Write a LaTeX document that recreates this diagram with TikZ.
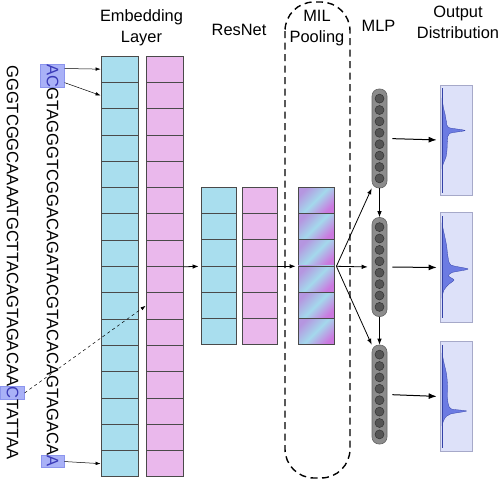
\documentclass[tikz,border=0pt]{standalone}
\usepackage{fontspec}
\setmainfont{Liberation Sans}
\usetikzlibrary{arrows.meta,positioning,calc}
\definecolor{EmbCyan}{HTML}{A9DEEE}
\definecolor{EmbPink}{HTML}{EAB8EC}
\definecolor{CellLine}{HTML}{4A4A4A}
\definecolor{HlFill}{HTML}{A9B1F7}
\definecolor{HlLine}{HTML}{8C95EE}
\definecolor{HlText}{HTML}{3A3AB8}
\definecolor{MixPink}{HTML}{CB78DF}
\definecolor{MixLav}{HTML}{B596E0}
\definecolor{MixBlue}{HTML}{A4D8EC}
\definecolor{MlpBar}{HTML}{8C8C8C}
\definecolor{MlpEdge}{HTML}{666666}
\definecolor{MlpDot}{HTML}{555555}
\definecolor{DistFill}{HTML}{DDE1F9}
\definecolor{DistLine}{HTML}{A6A9C9}
\definecolor{CurveFill}{HTML}{6C7BE2}
\definecolor{CurveLine}{HTML}{3442A8}

\begin{document}
\begin{tikzpicture}[x=1pt,y=-1pt,
    seq/.style={
      inner sep=0pt,
      rotate=-90,
      anchor=west,
      font=\fontsize{16.6}{18}\selectfont
    },
    hl/.style={
      fill=HlFill,
      draw=HlLine,
      line width=0.5pt,
      text=HlText,
      inner xsep=0.3pt,
      inner ysep=6pt
    },
    cell/.style={
      draw=CellLine,
      line width=0.8pt,
      fill=#1,
      minimum height=26.3pt,
      inner sep=0pt
    },
    embcell/.style={cell=#1, minimum width=37pt},
    rescell/.style={cell=#1, minimum width=35pt},
    poolcell/.style={
      draw=CellLine,
      line width=0.8pt,
      minimum width=36pt,
      minimum height=26.3pt,
      inner sep=0pt,
      top color=MixLav,
      bottom color=MixPink,
      middle color=MixBlue,
      shading angle=45
    },
    mlpbar/.style={
      draw=MlpEdge,
      fill=MlpBar,
      line width=0.6pt,
      rounded corners=7pt,
      minimum width=15pt,
      minimum height=99pt,
      inner sep=0pt
    },
    mlpdot/.style={
      circle,
      draw=black!80,
      fill=MlpDot,
      line width=0.5pt,
      minimum size=9pt,
      inner sep=0pt
    },
    distbox/.style={
      draw=DistLine,
      fill=DistFill,
      line width=0.7pt,
      minimum width=32pt,
      minimum height=110pt,
      inner sep=0pt
    },
    curve/.style={fill=CurveFill, draw=CurveLine, line width=0.3pt},
    title/.style={
      font=\fontsize{16.4}{21}\selectfont,
      align=center,
      inner sep=0pt
    },
    thinarr/.style={-{Latex[length=5pt,width=3.5pt]}, line width=0.5pt},
    arr/.style={-{Latex[length=6pt,width=4.5pt]}, line width=0.8pt},
    bigarr/.style={-{Latex[length=8pt,width=6pt]}, line width=1pt}
  ]
  \useasboundingbox (0,0) rectangle (500,482);

  % Titles
  \node[title] (tEmb) at (141.5,28) {Embedding\\Layer};
  \node[title] (tRes) at (239,30) {ResNet};
  \node[title] (tMil) at (317,28) {MIL\\Pooling};
  \node[title] (tMlp) at (378.5,26) {MLP};
  \node[title] (tOut) at (458,22) {Output\\Distribution};

  % Sequences
  \node[seq] (seqLa) at (12.5,65) {GGGTCGGCAAAATGCTTACAGTAGACAA};
  \node[seq,hl] (hlC) at (seqLa.east) {C};
  \node[seq] (seqLb) at (hlC.east) {TATTAA};

  \node[seq,hl] (hlAC) at (52.5,63.5) {AC};
  \node[seq] (seqR) at (hlAC.east) {GTAGGGTCGGACAGATACGTACACAGTAGACA};
  \node[seq,hl] (hlA) at (seqR.east) {A};

  % Embedding layer
  \foreach \i in {0,...,15} {
    \node[embcell=EmbCyan] (ec\i) at (119.5,{69.15+26.3*\i}) {};
    \node[embcell=EmbPink] (ep\i) at (164.5,{69.15+26.3*\i}) {};
  }

  % ResNet and MIL pooling
  \foreach \i in {0,...,5} {
    \node[rescell=EmbCyan] (rc\i) at (218.5,{200.15+26.3*\i}) {};
    \node[rescell=EmbPink] (rp\i) at (259.5,{200.15+26.3*\i}) {};
    \node[poolcell] (pc\i) at (316,{200.15+26.3*\i}) {};
  }
  \draw[line width=1.4pt, dash pattern=on 7pt off 4.5pt, rounded corners=29pt]
    (285,2) rectangle (350,478);

  % MLP and output distributions
  \foreach \m/\yc/\dc in {1/138.5/140,2/267/267.5,3/394.5/396.5} {
    \node[mlpbar] (mlp\m) at (379.5,\yc) {};
    \foreach \k in {0,...,7}
      \node[mlpdot] (dot\m\k) at (379.5,{\yc-39.9+11.4*\k}) {};
    \node[distbox] (dist\m) at (456,\dc) {};
    \draw[bigarr, shorten <=5pt, shorten >=3pt] (mlp\m.east) -- (dist\m.west);
  }

  % Density curves
  \fill[curve] plot[smooth, tension=0.45] coordinates {(442,98) (443.5,108)
    (445,114) (446.5,122) (448.5,127.5) (465,130.5) (449.5,133.5) (447.5,140)
    (447,150) (446,157) (443.5,163) (442,168)} -- cycle;
  \fill[curve] plot[smooth, tension=0.45] coordinates {(442,224) (444,233)
    (446.5,245) (448,257) (451,265) (468,269) (452,272.5) (448.5,276)
    (454,280) (448.5,284.5) (444,290) (442,297)} -- cycle;
  \fill[curve] plot[smooth, tension=0.45] coordinates {(442,353) (444,363)
    (446.5,374) (447.5,385) (447.5,398) (448.5,405) (451.5,409) (466.5,411)
    (450.5,414) (445,418) (442,425)} -- cycle;
  \draw[CurveLine, line width=0.6pt] (442,88) -- (442,193);
  \draw[CurveLine, line width=0.6pt] (442,216) -- (442,318);
  \draw[CurveLine, line width=0.6pt] (442,345) -- (442,448);

  % Sequence to embedding
  \draw[thinarr] ([yshift=-5pt]hlAC.north west) -- (ec0.west);
  \draw[thinarr] ([yshift=5pt]hlAC.north east) -- (ec1.west);
  \draw[thinarr] (hlA.north) -- (ec15.west);
  \draw[thinarr, dashed] (hlC.north) -- (ep9.west);

  % Forward path
  \draw[arr, shorten >=2pt] (ep7.south east) -- (rc2.south west);
  \draw[arr, shorten >=2pt] (rp2.south east) -- (pc2.south west);
  \coordinate (split) at ([xshift=2pt]pc2.south east);
  \draw[arr] (split) -- (mlp1.south west);
  \draw[arr, shorten >=4pt] (split) -- (mlp2.west);
  \draw[arr] (split) -- (mlp3.north west);
  \draw[arr] (mlp1.south) -- (mlp2.north);
  \draw[arr] (mlp2.south) -- (mlp3.north);

\end{tikzpicture}
\end{document}
